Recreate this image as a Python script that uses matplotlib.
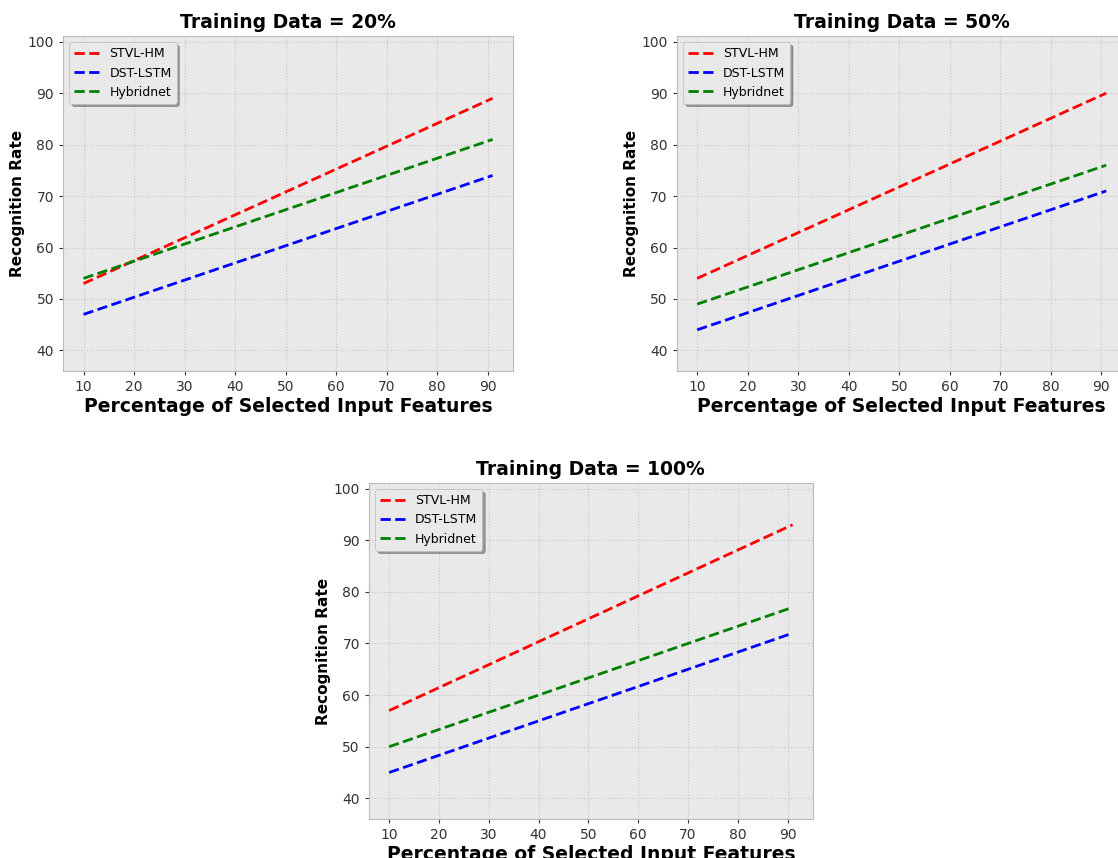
import numpy as np
import matplotlib.pyplot as plt

plt.style.use('bmh')

# x values: start and end of the feature-percentage sweep
x = [10, 91]

titles = ["Training Data = 20%", "Training Data = 50%", "Training Data = 100%"]
names = ["STVL-HM", "DST-LSTM", "Hybridnet"]
colors = ['red', 'blue', 'green']

# recognition rate at x=10 and x=91 for each panel
stvl = [[53, 89], [54, 90], [57, 93]]
dst = [[47, 74], [44, 71], [45, 72]]
hybrid = [[54, 81], [49, 76], [50, 77]]

fig = plt.figure(figsize=(11.18, 8.58), dpi=100)
fig.patch.set_facecolor('white')

boxes = [[0.0564, 0.5676, 0.4025, 0.3904],
         [0.6053, 0.5676, 0.4025, 0.3904],
         [0.330, 0.0455, 0.397, 0.3916]]

for i in range(3):
    ax = fig.add_axes(boxes[i])
    ax.set_facecolor('#e9e9e9')
    for ys, name, c in zip([stvl[i], dst[i], hybrid[i]], names, colors):
        ax.plot(x, ys, '--', color=c, lw=2, label=name)
    ax.set_ylim(36, 101.1)
    ax.set_xticks(range(10, 100, 10))
    ax.set_yticks(range(40, 101, 10))
    ax.grid(True, color='#c4c4c4', linestyle=':', linewidth=0.8)
    for s in ax.spines.values():
        s.set_color('#bcbcbc')
    ax.tick_params(labelsize=10, colors='#333333', direction='out', length=3)
    ax.set_title(titles[i], fontsize=13.5, fontweight='bold', pad=6)
    ax.set_xlabel("Percentage of Selected Input Features", fontsize=13.5, fontweight='bold', labelpad=2)
    ax.set_ylabel("Recognition Rate", fontsize=11, fontweight='bold', labelpad=2)
    ax.legend(loc='upper left', fontsize=9, shadow=True, fancybox=True,
              facecolor='#e9e9e9', edgecolor='#bcbcbc', framealpha=1)

fig.savefig('out.png', dpi=100)
